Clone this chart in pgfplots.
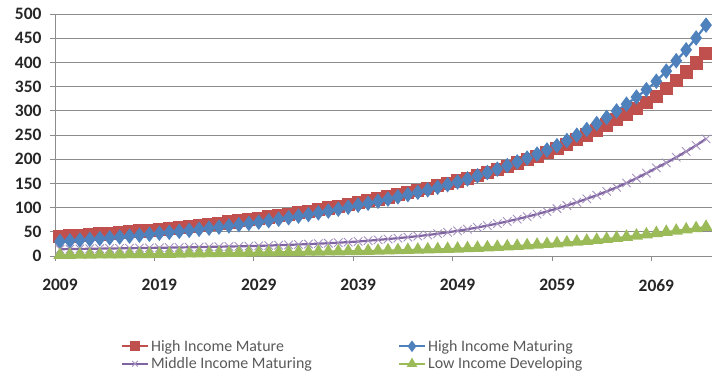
\documentclass[border=0pt]{standalone}
\usepackage{fontspec}
\setmainfont{Carlito}
\usepackage{pgfplots}
\usepackage{pgfplotstable}
\pgfplotsset{compat=1.18}

\definecolor{hmred}{HTML}{C0504D}
\definecolor{hgblue}{HTML}{4F81BD}
\definecolor{mipurple}{HTML}{8064A2}
\definecolor{ldgreen}{HTML}{9BBB59}
\definecolor{gridgray}{HTML}{8C8C8C}

% year, High Income Mature, High Income Maturing, Middle Income Maturing, Low Income Developing
\pgfplotstableread{
year hm hg mi ld
2009 40.0 30.0 14.0 2.0
2010 41.3 31.4 14.3 2.2
2011 42.6 32.8 14.6 2.4
2012 44.0 34.3 14.9 2.6
2013 45.4 35.9 15.2 2.8
2014 46.9 37.5 15.5 3.0
2015 48.4 39.2 15.8 3.2
2016 50.0 41.0 16.1 3.4
2017 51.6 42.9 16.4 3.6
2018 53.3 44.9 16.7 3.8
2019 55.0 47.0 17.0 4.0
2020 57.0 48.9 17.3 4.3
2021 59.0 50.9 17.6 4.6
2022 61.1 53.0 18.0 4.9
2023 63.3 55.1 18.4 5.2
2024 65.5 57.4 18.8 5.5
2025 67.9 59.7 19.2 5.8
2026 70.3 62.1 19.6 6.1
2027 72.8 64.7 20.0 6.4
2028 75.4 67.3 20.5 6.7
2029 78.0 70.0 21.0 7.0
2030 80.7 72.9 21.6 7.3
2031 83.6 75.9 22.3 7.6
2032 86.5 79.0 23.0 7.9
2033 89.5 82.3 23.8 8.2
2034 92.7 85.6 24.6 8.5
2035 95.9 89.1 25.5 8.8
2036 99.3 92.8 26.4 9.1
2037 102.8 96.6 27.5 9.4
2038 106.4 100.7 28.7 9.7
2039 110.0 105.0 30.0 10.0
2040 113.9 109.0 31.6 10.4
2041 117.9 113.2 33.3 10.8
2042 122.0 117.6 35.0 11.3
2043 126.3 122.1 36.9 11.8
2044 130.7 126.8 38.9 12.3
2045 135.3 131.6 41.0 12.8
2046 140.0 136.7 43.4 13.3
2047 144.9 141.9 46.0 13.8
2048 149.9 147.4 48.9 14.4
2049 155.0 153.0 52.0 15.0
2050 160.7 159.2 55.3 15.8
2051 166.5 165.7 58.9 16.7
2052 172.5 172.5 62.8 17.6
2053 178.8 179.5 67.0 18.6
2054 185.3 186.8 71.5 19.6
2055 192.0 194.4 76.2 20.7
2056 199.0 202.3 81.2 21.9
2057 206.2 210.6 86.5 23.1
2058 213.7 219.1 92.1 24.5
2059 222.0 228.0 98.0 26.0
2060 231.0 238.6 104.3 27.6
2061 240.3 249.7 111.0 29.3
2062 250.0 261.4 118.1 31.1
2063 260.1 273.6 125.6 33.0
2064 270.6 286.3 133.5 35.0
2065 281.5 299.7 141.8 37.1
2066 292.9 313.7 150.9 39.4
2067 304.7 328.3 160.7 41.8
2068 317.0 343.6 171.0 44.3
2069 330.0 361.0 182.0 47.0
2070 346.0 382.0 192.5 49.5
2071 362.7 403.5 204.0 52.0
2072 380.2 426.0 216.0 54.5
2073 398.6 450.5 228.5 57.2
2074 418.0 477.0 242.0 60.0
}\incomedata

\begin{document}
\begin{tikzpicture}
\begin{axis}[
  at={(0,0)}, anchor=south west,
  scale only axis, width=657bp, height=242bp,
  xmin=2008.5, xmax=2074.6, ymin=0, ymax=500,
  axis x line*=bottom, axis y line*=left,
  axis line style={gridgray, -, line width=0.9bp},
  ymajorgrids, grid style={gridgray, line width=0.9bp},
  ytick={0,50,...,500},
  xtick={2009,2019,...,2069},
  minor xtick={2008.5,2018.5,...,2068.5},
  tick align=outside, major tick length=5bp, minor tick length=5bp,
  tick style={gridgray, line width=0.9bp},
  major x tick style={draw=none},
  /pgf/number format/assume math mode=true,
  ticklabel style={font=\fontsize{17.5}{19}\selectfont\bfseries, text=black!85},
  x tick label style={/pgf/number format/1000 sep={}, yshift=-15bp},
  y tick label style={xshift=-5bp},
  legend columns=2,
  legend style={at={(axis description cs:0.1,-0.338)}, anchor=north west,
    draw=none, fill=none, inner sep=0pt,
    font=\fontsize{16}{18}\selectfont, text=black!65,
    cells={anchor=west},
    /tikz/column 2/.style={column sep=84bp},
    row sep=1bp},
  legend image code/.code={%
    \draw[#1, mark size=4bp, mark repeat=2, mark phase=2]
      plot coordinates {(0bp,0bp) (13bp,0bp) (26bp,0bp)};},
]
\addplot[hmred, line width=2.2bp, mark=square*, mark size=5.5bp,
  mark options={solid}] table[x=year, y=hm] {\incomedata};
\addplot[hgblue, line width=2.2bp, mark=diamond*, mark size=6bp,
  mark options={solid}] table[x=year, y=hg] {\incomedata};
\addplot[mipurple, line width=2.2bp, mark=x, mark size=6bp,
  mark options={solid, line width=0.9bp, draw=mipurple!70}] table[x=year, y=mi] {\incomedata};
\addplot[ldgreen, line width=2.2bp, mark=triangle*, mark size=5.5bp,
  mark options={solid}] table[x=year, y=ld] {\incomedata};
\legend{High Income Mature, High Income Maturing, Middle Income Maturing, Low Income Developing}
\end{axis}
\pgfresetboundingbox
\path[use as bounding box] (-55bp,-118bp) rectangle (657bp,256bp);
\end{tikzpicture}
\end{document}
